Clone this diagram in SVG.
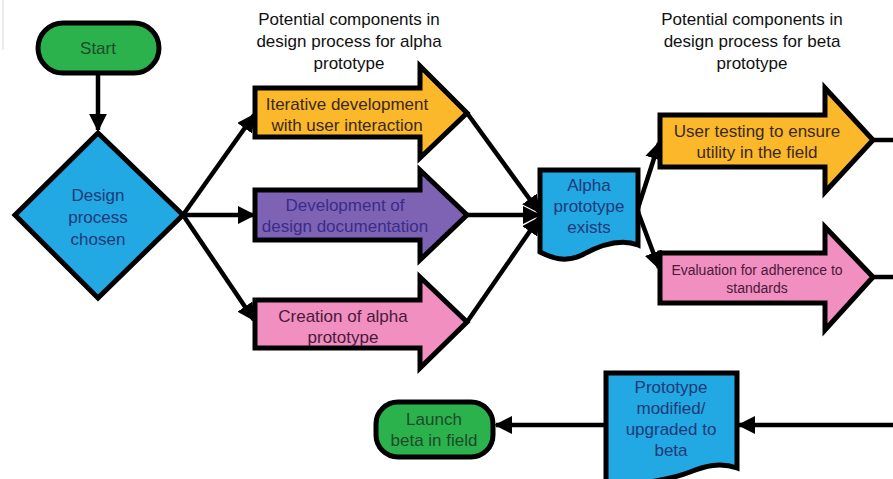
<svg xmlns="http://www.w3.org/2000/svg" width="893" height="479" viewBox="0 0 893 479">
<defs>
<marker id="ah" viewBox="0 0 10 10" refX="9" refY="5" markerWidth="4" markerHeight="4" orient="auto" markerUnits="strokeWidth">
<path d="M0,0 L10,5 L0,10 Z" fill="#000"/>
</marker>
<style>
text{font-family:"Liberation Sans",Arial,sans-serif;text-anchor:middle;font-size:17px}
.t{fill:#111}
.n{stroke:#000;stroke-width:5;stroke-linejoin:miter}
.c{stroke:#000;stroke-width:4.5;fill:none}
.green{fill:#2bb24c}
.blue{fill:#22a8e2}
.yellow{fill:#fbb82a}
.purple{fill:#7e63b4}
.pink{fill:#f08fc0}
.tg{fill:#1d4a2a}
.tb{fill:#1e3a78}
.td{fill:#3a2a1a}
.tp{fill:#3a2c8a}
.tk{fill:#4a1a3a}
.sm{font-size:14px}
</style>
</defs>
<rect width="893" height="479" fill="#fff"/>
<line x1="3" y1="0" x2="3" y2="50" stroke="#e6e6e6" stroke-width="1.5"/>

<g id="titles">
<text class="t" x="349" y="25">Potential components in</text>
<text class="t" x="349" y="47">design process for alpha</text>
<text class="t" x="349" y="69">prototype</text>
<text class="t" x="752" y="25">Potential components in</text>
<text class="t" x="752" y="47">design process for beta</text>
<text class="t" x="752" y="69">prototype</text>
</g>

<g id="connectors">
<line class="c" x1="98" y1="73" x2="98" y2="130" marker-end="url(#ah)"/>
<line class="c" x1="183" y1="215" x2="254" y2="115" marker-end="url(#ah)"/>
<line class="c" x1="183" y1="215" x2="254" y2="215" marker-end="url(#ah)"/>
<line class="c" x1="183" y1="215" x2="254" y2="320" marker-end="url(#ah)"/>
<line class="c" x1="467" y1="113" x2="539" y2="212" marker-end="url(#ah)"/>
<line class="c" x1="467" y1="215" x2="539" y2="215" marker-end="url(#ah)"/>
<line class="c" x1="467" y1="322" x2="539" y2="218" marker-end="url(#ah)"/>
<line class="c" x1="638" y1="208" x2="659" y2="143" marker-end="url(#ah)"/>
<line class="c" x1="638" y1="212" x2="659" y2="268" marker-end="url(#ah)"/>
<line class="c" x1="873" y1="140" x2="893" y2="140"/>
<line class="c" x1="873" y1="277" x2="893" y2="277"/>
<line class="c" x1="893" y1="425" x2="739" y2="425" marker-end="url(#ah)"/>
<line class="c" x1="605" y1="425" x2="496" y2="425" marker-end="url(#ah)"/>
</g>

<g id="start">
<rect class="n green" x="38" y="23" width="121" height="50" rx="25"/>
<text class="tg" x="98" y="54">Start</text>
</g>

<g id="design-process">
<path class="n blue" d="M98,133 L183,215 L98,298 L15,215 Z"/>
<text class="tb" x="98" y="201">Design</text>
<text class="tb" x="98" y="223">process</text>
<text class="tb" x="98" y="245">chosen</text>
</g>

<g id="iterative">
<path class="n yellow" d="M255,88 H420 V66 L467,113 L420,158 V137 H255 Z"/>
<text class="td" x="347" y="110">Iterative development</text>
<text class="td" x="347" y="131">with user interaction</text>
</g>

<g id="documentation">
<path class="n purple" d="M255,190 H420 V170 L467,215 L420,260 V240 H255 Z"/>
<text class="tp" x="345" y="211">Development of</text>
<text class="tp" x="345" y="232">design documentation</text>
</g>

<g id="creation">
<path class="n pink" d="M255,300 H420 V277 L467,322 L420,368 V348 H255 Z"/>
<text class="tk" x="343" y="322">Creation of alpha</text>
<text class="tk" x="343" y="343">prototype</text>
</g>

<g id="alpha-exists">
<path class="n blue" d="M540,170 H638 V245 C620,238 600,245 582,255 C565,263 552,258 540,252 Z"/>
<text class="tb" x="589" y="191">Alpha</text>
<text class="tb" x="589" y="212">prototype</text>
<text class="tb" x="589" y="233">exists</text>
</g>

<g id="user-testing">
<path class="n yellow" d="M660,115 H825 V88 L873,140 L825,192 V167 H660 Z"/>
<text class="td" x="757" y="137">User testing to ensure</text>
<text class="td" x="757" y="158">utility in the field</text>
</g>

<g id="evaluation">
<path class="n pink" d="M660,253 H825 V227 L873,277 L825,330 V303 H660 Z"/>
<text class="tk sm" x="757" y="275">Evaluation for adherence to</text>
<text class="tk sm" x="757" y="293">standards</text>
</g>

<g id="modified">
<path class="n blue" d="M606,373 H737 V468 C720,462 705,466 690,472 C675,478 660,480 650,482 L606,482 Z"/>
<text class="tb" x="671" y="393">Prototype</text>
<text class="tb" x="671" y="414">modified/</text>
<text class="tb" x="671" y="435">upgraded to</text>
<text class="tb" x="671" y="456">beta</text>
</g>

<g id="launch">
<rect class="n green" x="376" y="402" width="117" height="55" rx="22"/>
<text class="tg" x="434" y="425">Launch</text>
<text class="tg" x="434" y="446">beta in field</text>
</g>
</svg>
